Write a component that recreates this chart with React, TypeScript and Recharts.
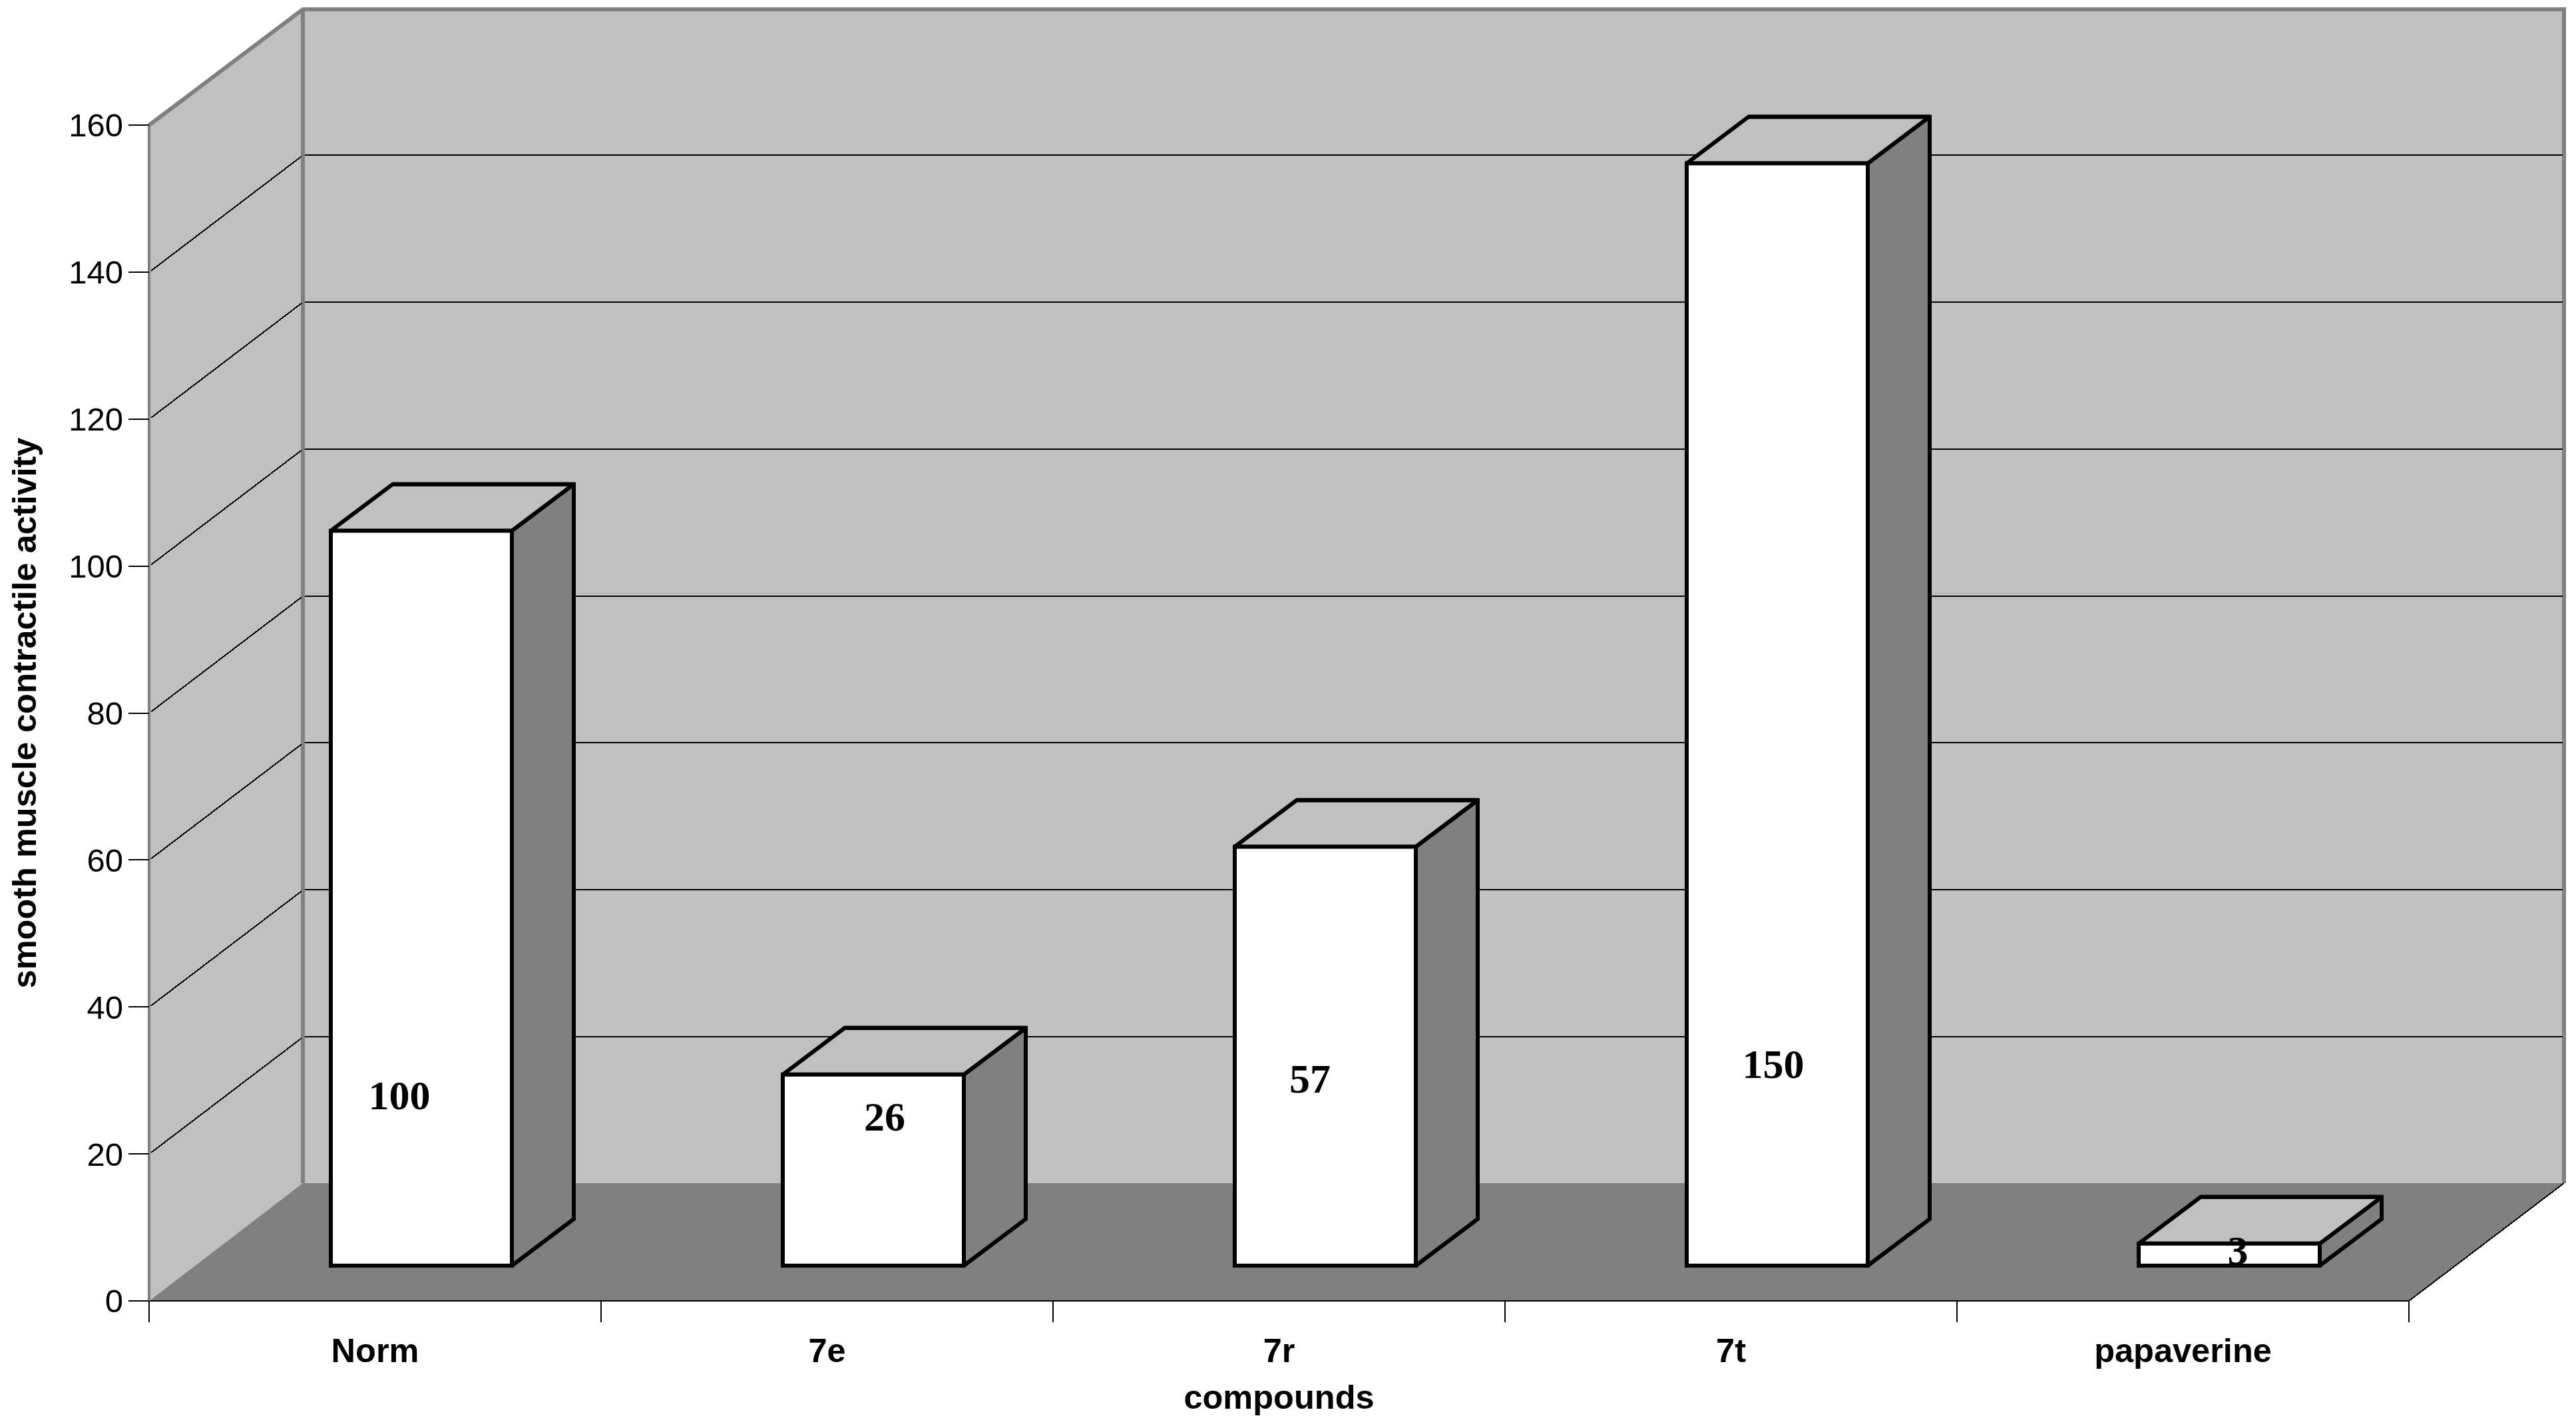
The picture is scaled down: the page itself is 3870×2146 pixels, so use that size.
import { Bar, BarChart, LabelList, ReferenceArea, ReferenceLine, XAxis, YAxis } from 'recharts'

const categories = ['Norm', '7e', '7r', '7t', 'papaverine']
const activity = [100, 26, 57, 150, 3]
const yTicks = [0, 20, 40, 60, 80, 100, 120, 140, 160]

const chartData = categories.map((name, i) => ({ name, activity: activity[i] }))

const WALL = '#C0C0C0'
const FLOOR = '#808080'
const FONT = '"Liberation Sans", Arial, sans-serif'

// oblique depth of the chart box
const DEPTH_X = 231
const DEPTH_Y = 176
// front face of the bars sits this far into the box
const BAR_SHIFT_X = 69
const BAR_SHIFT_Y = 53
const BAR_DEPTH_X = 93
const BAR_DEPTH_Y = 70

// the value labels were placed by hand in the original, [dx from bar centre, height above bar base]
const LABEL_NUDGE = [
  [-33, 256],
  [17, 224],
  [-23, 281],
  [-6, 303],
  [13, 23],
]

const Walls = ({ x, y, width, height }: any) => {
  const right = x + width
  const bottom = y + height
  const backLeft = x + DEPTH_X
  const backRight = right + DEPTH_X + 2
  const backTop = y - DEPTH_Y + 2
  const backBottom = bottom - DEPTH_Y - 1
  return (
    <g>
      <rect x={backLeft} y={backTop} width={backRight - backLeft} height={backBottom - backTop} fill={WALL} />
      <polygon
        points={`${x},${y} ${backLeft},${backTop} ${backLeft},${backBottom} ${x},${bottom}`}
        fill={WALL}
      />
      <polygon
        points={`${x},${bottom} ${backLeft},${backBottom} ${backRight},${backBottom} ${right},${bottom}`}
        fill={FLOOR}
      />
      <path
        d={`M${x},${y} L${backLeft},${backTop} L${backRight},${backTop} L${backRight},${backBottom} M${backLeft},${backTop} L${backLeft},${backBottom}`}
        fill="none"
        stroke={FLOOR}
        strokeWidth={6}
      />
      <line x1={right} y1={bottom} x2={backRight} y2={backBottom} stroke="#000" strokeWidth={2} shapeRendering="crispEdges" />
    </g>
  )
}

// horizontal rule on the back wall plus its diagonal on the left wall
const GridLine = ({ x1, y1, x2 }: any) => (
  <g stroke="#000" fill="none" strokeWidth={2} shapeRendering="crispEdges">
    <line x1={x1 + 3} y1={y1 - 2} x2={x1 + DEPTH_X - 2} y2={y1 - DEPTH_Y + 2} />
    <line x1={x1 + DEPTH_X + 3} y1={y1 - DEPTH_Y} x2={x2 + DEPTH_X} y2={y1 - DEPTH_Y} />
  </g>
)

const Bar3D = ({ x, y, width, height }: any) => {
  const left = x + BAR_SHIFT_X
  const top = y - BAR_SHIFT_Y
  const right = left + width
  const bottom = top + height
  const backRight = right + BAR_DEPTH_X
  const backTop = top - BAR_DEPTH_Y
  return (
    <g stroke="#000" strokeWidth={6} strokeLinejoin="miter" strokeMiterlimit={2}>
      <polygon
        points={`${right},${top} ${backRight},${backTop} ${backRight},${bottom - BAR_DEPTH_Y} ${right},${bottom}`}
        fill={FLOOR}
      />
      <polygon
        points={`${left},${top} ${left + BAR_DEPTH_X},${backTop} ${backRight},${backTop} ${right},${top}`}
        fill={WALL}
      />
      <path
        d={`M${left + BAR_DEPTH_X},${backTop} L${backRight},${backTop} L${backRight},${bottom - BAR_DEPTH_Y}`}
        fill="none"
      />
      <rect x={left} y={top} width={width} height={height} fill="#fff" />
    </g>
  )
}

const ValueLabel = ({ x, y, width, height, value, index }: any) => {
  const [dx, rise] = LABEL_NUDGE[index]
  return (
    <text
      x={x + BAR_SHIFT_X + width / 2 + dx}
      y={y + height - BAR_SHIFT_Y - rise}
      textAnchor="middle"
      dominantBaseline="central"
      fontFamily='"Liberation Serif", "Times New Roman", serif'
      fontWeight="bold"
      fontSize={62}
      fill="#000"
    >
      {value}
    </text>
  )
}

// labels sit mid-band, the tick marks sit on the band edges
const CategoryTick = ({ x, y, payload, index }: any) => {
  const half = payload.offset
  const isLast = index === categories.length - 1
  return (
    <g>
      <line x1={x - half} y1={y - 32} x2={x - half} y2={y} stroke="#000" strokeWidth={2} shapeRendering="crispEdges" />
      {isLast && (
        <line x1={x + half} y1={y - 32} x2={x + half} y2={y} stroke="#000" strokeWidth={2} shapeRendering="crispEdges" />
      )}
      <text x={x} y={y + 60} textAnchor="middle" fontFamily={FONT} fontWeight="bold" fontSize={50.5} fill="#000">
        {payload.value}
      </text>
    </g>
  )
}

export default function App() {
  return (
    <div style={{ position: 'absolute', left: 0, top: 0, width: 3870, height: 2146, background: '#fff' }}>
      <BarChart
        width={3870}
        height={2146}
        data={chartData}
        margin={{ top: 188, right: 251, bottom: 0, left: 0 }}
        barSize={272}
      >
        <ReferenceArea y1={0} y2={160} shape={Walls} ifOverflow="visible" zIndex={-200} />
        {yTicks.slice(1, -1).map((t) => (
          <ReferenceLine key={t} y={t} shape={GridLine} ifOverflow="visible" zIndex={-150} />
        ))}
        <XAxis
          dataKey="name"
          height={191}
          interval={0}
          tickLine={false}
          tickSize={32}
          tickMargin={0}
          axisLine={{ stroke: '#000', strokeWidth: 2, shapeRendering: 'crispEdges' }}
          tick={<CategoryTick />}
          label={{
            value: 'compounds',
            position: 'insideBottom',
            offset: 29,
            style: { fontFamily: FONT, fontWeight: 'bold', fontSize: 50.5, fill: '#000' },
          }}
        />
        <YAxis
          width={224}
          domain={[0, 160]}
          ticks={yTicks}
          interval={0}
          tickSize={31}
          tickMargin={8}
          axisLine={{ stroke: FLOOR, strokeWidth: 4 }}
          tickLine={{ stroke: '#000', strokeWidth: 2, shapeRendering: 'crispEdges' }}
          tick={{ fontFamily: FONT, fontSize: 49, fill: '#000' }}
          label={{
            value: 'smooth muscle contractile activity',
            angle: -90,
            position: 'insideLeft',
            offset: 36,
            style: { fontFamily: FONT, fontWeight: 'bold', fontSize: 50.5, fill: '#000', textAnchor: 'middle' },
          }}
        />
        <Bar dataKey="activity" shape={Bar3D} isAnimationActive={false}>
          <LabelList dataKey="activity" content={ValueLabel} />
        </Bar>
      </BarChart>
    </div>
  )
}
